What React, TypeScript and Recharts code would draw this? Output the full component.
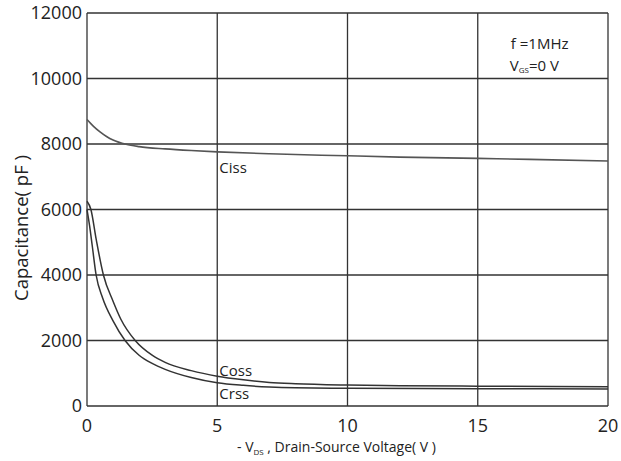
import React from 'react';
import { LineChart, Line, XAxis, YAxis, CartesianGrid, ReferenceDot } from 'recharts';

// Capacitance vs. drain-source voltage (f = 1MHz, Vgs = 0V)
const CISS_V = [0, 0.25, 0.5, 0.75, 1, 1.5, 2, 3, 4, 5, 7, 10, 12, 15, 17, 20];
const CISS_PF = [8750, 8540, 8370, 8230, 8120, 7990, 7920, 7850, 7800, 7760, 7700, 7640, 7600, 7560, 7530, 7480];

const COSS_V = [0, 0.15, 0.35, 0.63, 1, 1.3, 1.85, 2.5, 3, 4, 5, 6, 7, 8, 10, 12, 15, 20];
const COSS_PF = [6250, 6000, 5100, 4000, 3200, 2650, 2000, 1550, 1330, 1080, 910, 800, 720, 680, 640, 620, 605, 590];

const CRSS_V = [0, 0.1, 0.2, 0.35, 0.6, 1, 1.46, 2, 2.5, 3, 4, 5, 6, 7, 8, 10, 15, 20];
const CRSS_PF = [6000, 5500, 4900, 4000, 3300, 2600, 2000, 1550, 1300, 1120, 870, 710, 630, 580, 555, 540, 530, 520];

const X_TICKS = [0, 5, 10, 15, 20];
const Y_TICKS = [0, 2000, 4000, 6000, 8000, 10000, 12000];

const toRows = (xs: number[], ys: number[]) => xs.map((v, i) => ({ v, c: ys[i] }));

const ciss = toRows(CISS_V, CISS_PF);
const coss = toRows(COSS_V, COSS_PF);
const crss = toRows(CRSS_V, CRSS_PF);

const FONT = "'Open Sans', sans-serif";
const INK = '#222';

const textAt = (content: React.ReactNode, size = 15) => (props: any) => (
  <text x={props.cx} y={props.cy} fill={INK} fontSize={size} fontFamily={FONT}>
    {content}
  </text>
);

const YTitle = () => (
  <text
    x={28}
    y={228}
    transform="rotate(-90 28 228)"
    textAnchor="middle"
    fill={INK}
    fontSize={18.5}
    fontFamily={FONT}
  >
    Capacitance( pF )
  </text>
);

const XTitle = () => (
  <text x={237} y={452} fill={INK} fontSize={14} fontFamily={FONT}>
    - V<tspan fontSize={8} dy={3}>DS</tspan>
    <tspan dy={-3}> , Drain-Source Voltage( V )</tspan>
  </text>
);

export default function App() {
  return (
    <div style={{ position: 'absolute', left: 0, top: 0, width: 621, height: 461, background: '#fff' }}>
      <LineChart width={621} height={461} margin={{ top: 13, right: 13, bottom: 0, left: 0 }}>
        <CartesianGrid stroke="#333" strokeWidth={1.3} horizontalValues={Y_TICKS} verticalValues={X_TICKS} />
        <XAxis
          type="number"
          dataKey="v"
          domain={[0, 20]}
          ticks={X_TICKS}
          axisLine={false}
          tickLine={false}
          tickSize={0}
          tickMargin={13}
          tick={{ fill: INK, fontSize: 18, fontFamily: FONT }}
          height={55}
          label={<XTitle />}
          allowDuplicatedCategory={false}
        />
        <YAxis
          type="number"
          domain={[0, 12000]}
          ticks={Y_TICKS}
          axisLine={false}
          tickLine={false}
          tickSize={0}
          tickMargin={5}
          width={87}
          tick={{ fill: INK, fontSize: 18, fontFamily: FONT }}
          label={<YTitle />}
        />
        <Line data={ciss} dataKey="c" type="monotone" stroke="#555" strokeWidth={1.6} dot={false} isAnimationActive={false} />
        <Line data={coss} dataKey="c" type="monotone" stroke="#333" strokeWidth={1.5} dot={false} isAnimationActive={false} />
        <Line data={crss} dataKey="c" type="monotone" stroke="#333" strokeWidth={1.5} dot={false} isAnimationActive={false} />
        <ReferenceDot x={5.08} y={7110} r={0} shape={textAt('Ciss')} />
        <ReferenceDot x={5.08} y={910} r={0} shape={textAt('Coss')} />
        <ReferenceDot x={5.08} y={210} r={0} shape={textAt('Crss')} />
        <ReferenceDot x={16.27} y={10900} r={0} shape={textAt('f =1MHz')} />
        <ReferenceDot
          x={16.23}
          y={10230}
          r={0}
          shape={textAt(
            <>
              V<tspan fontSize={8} dy={2}>GS</tspan>
              <tspan dy={-2}>=0 V</tspan>
            </>
          )}
        />
      </LineChart>
    </div>
  );
}
